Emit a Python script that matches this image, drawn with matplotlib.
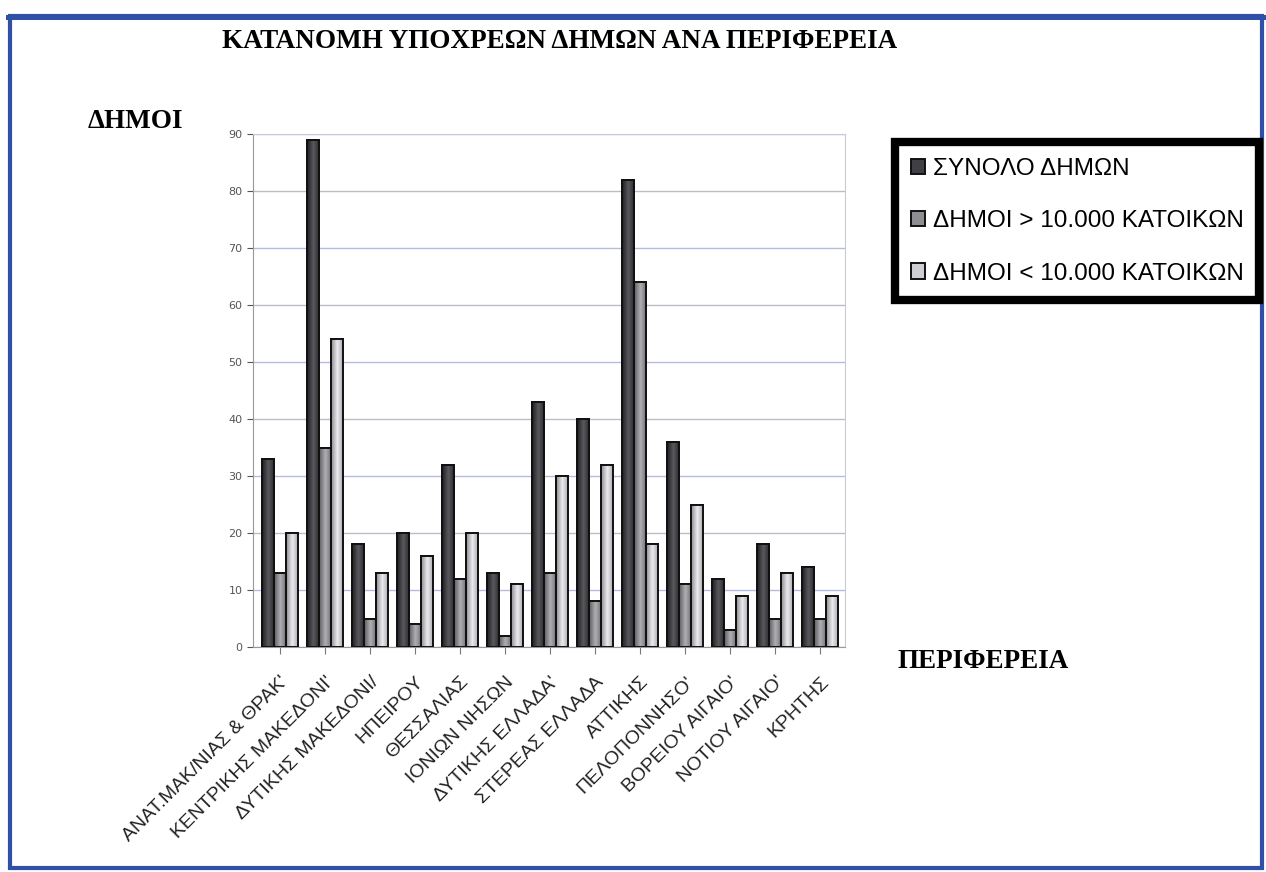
import matplotlib
matplotlib.use("Agg")
import matplotlib.pyplot as plt
import numpy as np
from matplotlib.colors import LinearSegmentedColormap
from matplotlib.patches import Rectangle

# values
regions = ["ΑΝΑΤ.ΜΑΚ/ΝΙΑΣ & ΘΡΑΚ'", "ΚΕΝΤΡΙΚΗΣ ΜΑΚΕΔΟΝΙ'", "ΔΥΤΙΚΗΣ ΜΑΚΕΔΟΝΙ/",
           "ΗΠΕΙΡΟΥ", "ΘΕΣΣΑΛΙΑΣ", "ΙΟΝΙΩΝ ΝΗΣΩΝ", "ΔΥΤΙΚΗΣ ΕΛΛΑΔΑ'",
           "ΣΤΕΡΕΑΣ ΕΛΛΑΔΑ", "ΑΤΤΙΚΗΣ", "ΠΕΛΟΠΟΝΝΗΣΟ'", "ΒΟΡΕΙΟΥ ΑΙΓΑΙΟ'",
           "ΝΟΤΙΟΥ ΑΙΓΑΙΟ'", "ΚΡΗΤΗΣ"]
total = [33, 89, 18, 20, 32, 13, 43, 40, 82, 36, 12, 18, 14]
over_10k = [13, 35, 5, 4, 12, 2, 13, 8, 64, 11, 3, 5, 5]
under_10k = [20, 54, 13, 16, 20, 11, 30, 32, 18, 25, 9, 13, 9]
series_names = ["ΣΥΝΟΛΟ ΔΗΜΩΝ", "ΔΗΜΟΙ > 10.000 ΚΑΤΟΙΚΩΝ", "ΔΗΜΟΙ < 10.000 ΚΑΤΟΙΚΩΝ"]
colors = ["#404044", "#8e8e92", "#cfcfd3"]
# cylinder-ish shading: edge, centre, edge
shades = [["#1e1e22", "#5a5a5e", "#262628"],
          ["#5c5c60", "#b0b0b4", "#6a6a6e"],
          ["#8c8c90", "#ececf0", "#a0a0a4"]]

W, H = 1266, 872
fig = plt.figure(figsize=(W / 100, H / 100), dpi=100)
fig.patch.set_facecolor("white")

# scanned page frame
fig.add_artist(Rectangle((10 / W, 4 / H), 1252 / W, 852 / H, transform=fig.transFigure,
                         fill=False, edgecolor="#3050a8", linewidth=3))
fig.add_artist(Rectangle((6 / W, 852 / H), 1260 / W, 5 / H, transform=fig.transFigure,
                         facecolor="#3050a8", edgecolor="none"))

ax = fig.add_axes([253 / W, (H - 647) / H, (845 - 253) / W, (647 - 134) / H])
x = np.arange(len(regions))
bw = 0.27
grad = np.linspace(0, 1, 64).reshape(1, -1)
for k, (vals, c, name) in enumerate(zip([total, over_10k, under_10k], colors, series_names)):
    bars = ax.bar(x + (k - 1) * bw, vals, width=bw, color=c, edgecolor="#111111",
                  linewidth=1.4, label=name, zorder=3)
    cmap = LinearSegmentedColormap.from_list(f"s{k}", shades[k])
    for b in bars:
        im = ax.imshow(grad, extent=[b.get_x(), b.get_x() + b.get_width(), 0, b.get_height()],
                       aspect="auto", cmap=cmap, zorder=3.5, interpolation="bilinear")
        im.set_clip_path(b)
        edge = Rectangle((b.get_x(), 0), b.get_width(), b.get_height(), fill=False,
                         edgecolor="#111111", linewidth=1.4, zorder=4)
        ax.add_patch(edge)

ax.set_xlim(-0.6, 12.55)
ax.set_ylim(0, 90)
ax.set_aspect("auto")
ax.set_yticks(range(0, 91, 10))
ax.tick_params(axis="y", labelsize=8, colors="#555555", length=4)
ax.tick_params(axis="x", length=5, colors="#777777", pad=14)
ax.set_xticks(x)
ax.set_xticklabels(regions, rotation=45, ha="right", rotation_mode="anchor",
                   fontsize=14, color="#222222", family="Liberation Sans")
ax.grid(axis="y", color="#b8bcd4", linewidth=1, zorder=0)
for s in ax.spines.values():
    s.set_color("#c8cad8")
ax.spines["left"].set_color("#999999")
ax.spines["bottom"].set_color("#999999")

fig.text(560 / W, 1 - 42 / H, "ΚΑΤΑΝΟΜΗ ΥΠΟΧΡΕΩΝ ΔΗΜΩΝ ΑΝΑ ΠΕΡΙΦΕΡΕΙΑ", ha="center", va="center",
         fontsize=19.5, fontweight="bold", family="Liberation Serif")
fig.text(88 / W, 1 - 122 / H, "ΔΗΜΟΙ", ha="left", va="center",
         fontsize=19.5, fontweight="bold", family="Liberation Serif")
fig.text(897 / W, 1 - 662 / H, "ΠΕΡΙΦΕΡΕΙΑ", ha="left", va="center",
         fontsize=19.5, fontweight="bold", family="Liberation Serif")

leg = fig.legend(loc="upper left", bbox_to_anchor=(895 / W, 1 - 142 / H),
                 prop={"family": "Liberation Sans", "size": 17.5}, frameon=True,
                 fancybox=False, framealpha=1, handlelength=0.6, handleheight=0.6,
                 handletextpad=0.3, labelspacing=1.25, borderpad=0.65, borderaxespad=0)
leg.get_frame().set_edgecolor("black")
leg.get_frame().set_linewidth(6)

fig.savefig("out.png", dpi=100)
